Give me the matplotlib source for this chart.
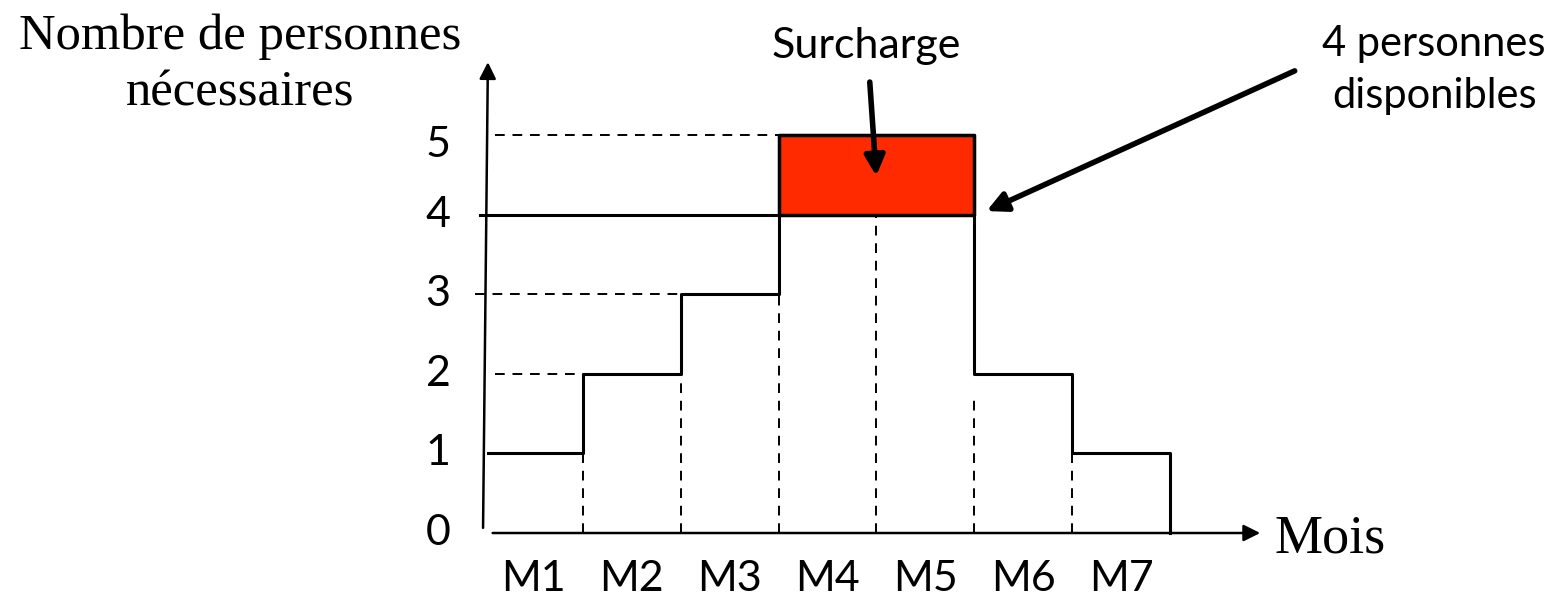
import numpy as np
import matplotlib.pyplot as plt

mois = ['M1', 'M2', 'M3', 'M4', 'M5', 'M6', 'M7']
besoin = [1, 2, 3, 5, 5, 2, 1]
disponibles = 4
graduations = [0, 1, 2, 3, 4, 5]

plt.rcParams['font.family'] = ['Lato', 'DejaVu Sans']

fig = plt.figure(figsize=(15.63, 6.06), dpi=100)
ax = fig.add_axes([0, 0, 1, 1])
# echelle : 1 mois ~ 97.9 px, 1 personne ~ 79.6 px
ax.set_xlim(-4.956, 11.016)
ax.set_ylim(-0.917, 6.696)
ax.axis('off')

n = len(mois)
bords = np.arange(n + 1)

# surcharge (au-dessus des personnes disponibles)
ax.fill_between([3, 5], disponibles, 5, color='#ff2a00', ec='black', lw=2.5, zorder=3)

# courbe en escalier du besoin
xs = []
ys = []
for i in range(n):
    xs += [bords[i], bords[i + 1]]
    ys += [besoin[i], besoin[i]]
xs.append(bords[-1]); ys.append(0)
xs[0] = 0.03
ax.plot(xs, ys, color='black', lw=2.2, zorder=2)

# personnes disponibles
ax.plot([-0.05, 3], [disponibles, disponibles], color='black', lw=2.2, zorder=2)

# pointilles horizontaux
for val, debut, fin in [(5, 0.1, 3), (3, -0.1, 2), (2, 0.1, 1)]:
    ax.plot([debut, fin], [val, val], color='black', lw=1.4, ls=(0, (5, 4)))

# pointilles verticaux
for b, haut in [(1, 1), (2, 2), (3, 3), (4, 4), (5, 1.75), (6, 1)]:
    ax.plot([b, b], [0, haut], color='black', lw=1.4, ls=(0, (5, 4)))

# axes avec fleches
ax.annotate('', xy=(0.03, 5.95), xytext=(-0.02, 0.03),
            arrowprops=dict(arrowstyle='-|>', color='black', lw=1.8, mutation_scale=25))
ax.annotate('', xy=(7.95, 0), xytext=(0.05, 0),
            arrowprops=dict(arrowstyle='-|>', color='black', lw=1.8, mutation_scale=25))

for g in graduations:
    dy = -0.12 if g == 5 else 0
    ax.text(-0.48, g + dy, str(g), fontsize=31, ha='center', va='center')

for i, m in enumerate(mois):
    ax.text(bords[i] + 0.5, -0.58, m, fontsize=31, ha='center', va='center')

ax.text(-2.5, 5.88, 'Nombre de personnes\nnécessaires', fontsize=36.5, ha='center', va='center',
        family='Liberation Serif', linespacing=1.3)
ax.text(8.07, -0.08, 'Mois', fontsize=39, ha='left', va='center', family='Liberation Serif')

ax.text(3.9, 6.12, 'Surcharge', fontsize=31, ha='center', va='center')
ax.annotate('', xy=(4.0, 4.45), xytext=(3.93, 5.7),
            arrowprops=dict(arrowstyle='-|>', color='black', lw=4, mutation_scale=30))

ax.text(9.7, 5.82, '4 personnes\ndisponibles', fontsize=30, ha='center', va='center',
        linespacing=1.45)
ax.annotate('', xy=(5.1, 4.03), xytext=(8.3, 5.82),
            arrowprops=dict(arrowstyle='-|>', color='black', lw=4, mutation_scale=30))

fig.savefig('out.png', dpi=100)
